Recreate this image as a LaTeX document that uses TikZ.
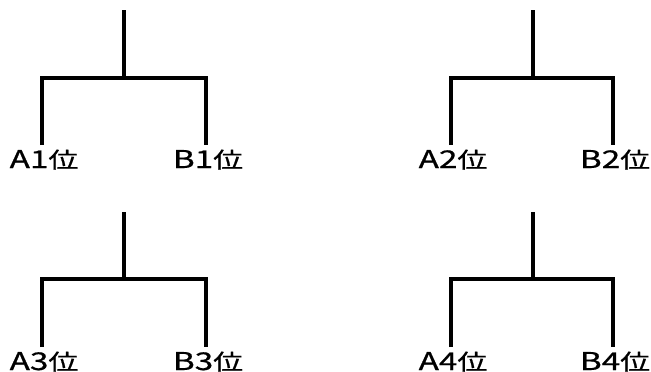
\documentclass[tikz,border=0pt]{standalone}
\usepackage{fontspec}
\usepackage{graphicx}
\newfontfamily\jpfont[FakeBold=0.6]{Noto Sans CJK JP}
\tikzset{
  line/.style={line width=3.2pt, line join=miter, line cap=butt},
  lab/.style={inner sep=0pt, anchor=base, font=\jpfont\fontsize{24.5pt}{24.5pt}\selectfont}
}
\newcommand{\poslab}[1]{\scalebox{1.36}[1]{#1{\fontsize{22pt}{22pt}\selectfont 位}}}
\begin{document}
\begin{tikzpicture}[x=1pt,y=-1pt]
\useasboundingbox (0,0) rectangle (651,372);
\foreach \n/\rx/\lx/\bx/\ty/\jy/\by/\a/\b in {
  1/124/42/206/10/78/145/A1/B1,
  2/533/451/613/10/78/145/A2/B2,
  3/124/42/206/212/279/347/A3/B3,
  4/533/451/613/212/279/347/A4/B4}{
  \coordinate (top\n) at (\rx,\ty);
  \coordinate (j\n) at (\rx,\jy);
  \coordinate (lc\n) at (\lx,\jy);
  \coordinate (rc\n) at (\bx,\jy);
  \coordinate (le\n) at (\lx,\by);
  \coordinate (re\n) at (\bx,\by);
  \node[lab] (la\n) at (\lx+2,\by+23) {\poslab{\a}};
  \node[lab] (lb\n) at (\bx+2,\by+23) {\poslab{\b}};
  \draw[line] (top\n) -- (j\n);
  \draw[line] (le\n) -- (lc\n) -- (rc\n) -- (re\n);
}
\end{tikzpicture}
\end{document}
